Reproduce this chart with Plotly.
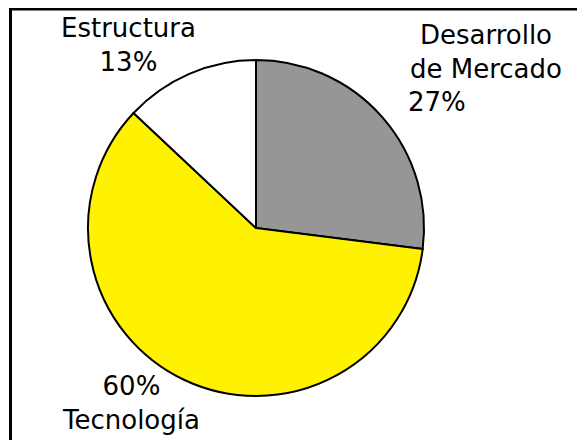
import plotly.graph_objects as go

# ---- data ----
categories = ["Desarrollo de Mercado", "Tecnología", "Estructura"]
values = [27, 60, 13]
colors = ["#969696", "#FFF200", "#FFFFFF"]

W, H = 585, 440
OFF = 8  # page body margin around the figure


def px_x(x):
    return (x - OFF) / W


def px_y(y):
    return 1 - (y - OFF) / H


# pie geometry (page pixels)
cx, cy, r = 256, 228, 168

fig = go.Figure()
fig.add_trace(go.Pie(
    labels=categories,
    values=values,
    sort=False,
    direction="clockwise",
    rotation=0,
    marker=dict(colors=colors, line=dict(color="#000000", width=2)),
    textinfo="none",
    showlegend=False,
    domain=dict(x=[px_x(cx - r), px_x(cx + r)], y=[px_y(cy + r), px_y(cy - r)]),
))

font = dict(family="DejaVu Sans", size=26, color="#000000")


def add_text(t, x, y):
    fig.add_annotation(
        text=t, x=px_x(x), y=px_y(y), xref="paper", yref="paper",
        xanchor="center", yanchor="middle", align="center",
        showarrow=False, font=font,
    )


label = dict(zip(categories, values))

# Desarrollo de Mercado: name on two lines, percentage offset below-left
name_a = categories[0].split(" ", 1)
add_text("<br>".join(name_a), 486, 52)
add_text(f"{label[categories[0]]}%", 437, 102)

# Tecnología: percentage above the name
add_text(f"{label[categories[1]]}%<br>{categories[1]}", 131, 403)

# Estructura: name above the percentage
add_text(f"{categories[2]}<br>{label[categories[2]]}%", 129, 45)

# outer frame (left and top edges visible)
fig.add_shape(
    type="rect", xref="paper", yref="paper",
    x0=px_x(10.5), x1=1.05, y0=-0.05, y1=px_y(9),
    line=dict(color="#000000", width=3), fillcolor="rgba(0,0,0,0)",
)

fig.update_layout(
    width=W, height=H,
    margin=dict(l=0, r=0, t=0, b=0),
    paper_bgcolor="#FFFFFF",
    plot_bgcolor="#FFFFFF",
)

fig.write_html("out.html")
